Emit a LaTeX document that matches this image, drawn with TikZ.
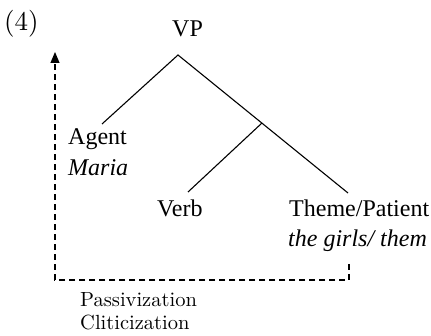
\documentclass[tikz,border=0pt]{standalone}
\usepackage{fontspec}
\newfontfamily\tms{Liberation Serif}
\newfontfamily\lmten[Extension=.otf]{lmroman10-regular}
\usetikzlibrary{arrows.meta}
\begin{document}
\begin{tikzpicture}[x=1pt,y=-1pt,
  tlabel/.style={inner sep=0pt,anchor=base west,font=\tms\fontsize{24}{28}\selectfont},
  lmlabel/.style={inner sep=0pt,anchor=base west,font=\lmten\fontsize{20.5}{23}\selectfont},
  branch/.style={line width=1.1pt},
  move/.style={line width=1.1pt,dash pattern=on 6pt off 4pt,-{Triangle[length=11pt,width=9pt]}}]
\useasboundingbox (0,0) rectangle (431,336);
\node[lmlabel,font=\lmten\fontsize{27}{30}\selectfont] (num) at (4,31) {(4)};
\node[tlabel] (vp) at (172,37) {VP};
\node[tlabel] (agent) at (68,145) {Agent};
\node[tlabel] (maria) at (68,176) {\itshape Maria};
\node[tlabel] (verb) at (157,217) {Verb};
\node[tlabel] (theme) at (289,217) {Theme/Patient};
\node[tlabel] (girls) at (288,247) {\itshape the girls/ them};
\node[lmlabel] (passiv) at (80,307) {Passivization};
\node[lmlabel] (clitic) at (80,330) {Cliticization};
\coordinate (apex) at (178,55);
\coordinate (agenttop) at (102,124);
\coordinate (vbar) at (262,123);
\coordinate (themetop) at (348,193);
\coordinate (verbtop) at (188,192);
\coordinate (themebot) at (349,264);
\coordinate (corner) at (55,280);
\coordinate (tip) at (55,52);
\draw[branch] (agenttop) -- (apex) -- (themetop);
\draw[branch] (vbar) -- (verbtop);
\draw[move] (themebot) |- (corner) -- (tip);
\end{tikzpicture}
\end{document}
